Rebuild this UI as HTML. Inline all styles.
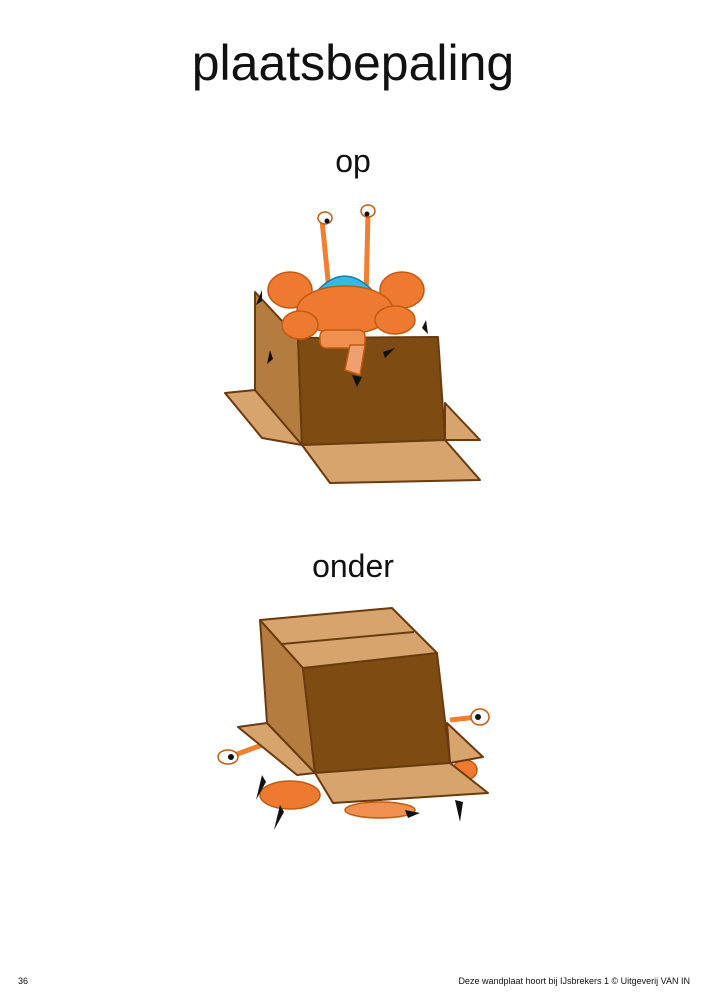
<!DOCTYPE html><html><head><style>body{margin:0;background:#fff}svg{display:block}</style></head><body>
<svg width="707" height="1000" viewBox="0 0 707 1000" xmlns="http://www.w3.org/2000/svg">
<g font-family="Liberation Sans, sans-serif" fill="#111">
<text x="353" y="80" font-size="50" text-anchor="middle">plaatsbepaling</text>
<text x="353" y="172" font-size="32" text-anchor="middle">op</text>
<text x="353" y="577" font-size="32" text-anchor="middle">onder</text>
<text x="18" y="984" font-size="9">36</text>
<text x="690" y="984" font-size="9" text-anchor="end">Deze wandplaat hoort bij IJsbrekers 1  ©  Uitgeverij VAN IN</text>
</g>
<g stroke="#6b3a0e" stroke-width="2" stroke-linejoin="round">
<!-- top box -->
<polygon points="225,393 255,390 302,445 262,438" fill="#d6a46c"/>
<polygon points="445,403 480,440 445,440" fill="#d6a46c"/>
<polygon points="255,292 298,338 302,445 255,390" fill="#b47c3e"/>
<polygon points="298,338 438,337 445,440 302,445" fill="#7e4c12"/>
<polygon points="302,445 445,440 480,480 330,483" fill="#d6a46c"/>
<!-- crab top -->
<g stroke="#c45a12" stroke-width="1.5">
<line x1="322" y1="220" x2="330" y2="300" stroke="#f08030" stroke-width="5"/>
<line x1="368" y1="213" x2="366" y2="298" stroke="#f08030" stroke-width="5"/>
<ellipse cx="325" cy="218" rx="7" ry="6" fill="#fff"/>
<ellipse cx="368" cy="211" rx="7" ry="6" fill="#fff"/>
<path d="M310,300 Q340,258 372,290 Z" fill="#38b8e0" stroke="#1a7fa0"/>
<ellipse cx="290" cy="290" rx="22" ry="18" fill="#ee7a30"/>
<ellipse cx="402" cy="290" rx="22" ry="18" fill="#ee7a30"/>
<ellipse cx="345" cy="310" rx="48" ry="24" fill="#ee7a30"/>
<ellipse cx="300" cy="325" rx="18" ry="14" fill="#ee7a30"/>
<ellipse cx="395" cy="320" rx="20" ry="14" fill="#ee7a30"/>
<rect x="320" y="330" width="45" height="18" rx="6" fill="#f09050"/>
<path d="M350,345 L345,370 L360,375 L365,345 Z" fill="#f0a070"/>
</g>
<g fill="#111" stroke="none">
<circle cx="327" cy="221" r="2.5"/><circle cx="367" cy="214" r="2.5"/>
<path d="M262,290 l-6,15 l6,-4z"/><path d="M426,320 l2,14 l-6,-6z"/><path d="M270,350 l-3,14 l6,-5z"/><path d="M352,375 l5,12 l5,-10z"/><path d="M383,352 l12,-4 l-10,10z"/>
</g>
<!-- bottom box -->
<g stroke="#c45a12" stroke-width="1.5">
<line x1="232" y1="756" x2="262" y2="745" stroke="#f08030" stroke-width="5"/>
<ellipse cx="228" cy="757" rx="10" ry="7" fill="#fff"/>
<line x1="450" y1="720" x2="478" y2="717" stroke="#f08030" stroke-width="5"/>
<ellipse cx="480" cy="717" rx="9" ry="8" fill="#fff"/>
<ellipse cx="290" cy="795" rx="30" ry="14" fill="#ee7a30"/>
<ellipse cx="380" cy="810" rx="35" ry="8" fill="#f09050"/>
<ellipse cx="465" cy="770" rx="12" ry="10" fill="#ee7a30"/>
</g>
<g fill="#111" stroke="none"><circle cx="231" cy="757" r="3"/><circle cx="478" cy="717" r="3"/>
<path d="M262,775 l-6,25 l10,-18z"/><path d="M280,805 l-6,25 l10,-18z"/><path d="M455,800 l5,22 l3,-20z"/><path d="M405,810 l15,3 l-12,5z"/></g>
<polygon points="238,727 267,723 315,773 297,775" fill="#d6a46c"/>
<polygon points="447,723 483,757 450,763" fill="#d6a46c"/>
<polygon points="260,620 303,668 315,773 267,723" fill="#b47c3e"/>
<polygon points="303,668 437,653 450,763 315,773" fill="#7e4c12"/>
<polygon points="260,620 392,608 437,653 303,668" fill="#d6a46c"/>
<line x1="282" y1="644" x2="414" y2="632" />
<polygon points="315,773 450,763 488,793 333,803" fill="#d6a46c"/>
</g>
</svg>
</body></html>
